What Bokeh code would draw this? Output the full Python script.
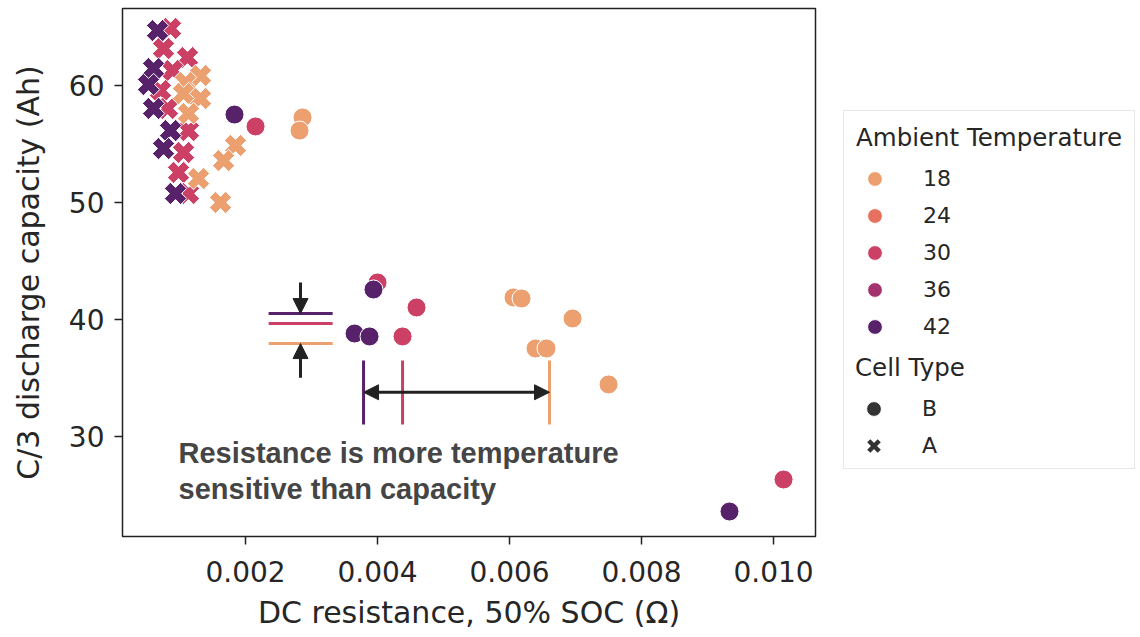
import math
from bokeh.plotting import figure
from bokeh.layouts import row
from bokeh.models import (ColumnDataSource, Legend, LegendItem, FixedTicker, Arrow,
                          NormalHead, Range1d, NumeralTickFormatter)
from bokeh.core.properties import value
from bokeh.embed import file_html
from bokeh.resources import INLINE

# ---------------- data ----------------
temp_levels = [18, 24, 30, 36, 42]
temp_colors = ["#eca06f", "#e7705e", "#cc4066", "#a2336f", "#57226a"]

# Cell type B (circles)
b_resistance = [0.002864, 0.002818, 0.006061, 0.006182, 0.006955, 0.006394, 0.006560, 0.007500,
                0.002152, 0.004000, 0.004379, 0.004591, 0.010152,
                0.001833, 0.003939, 0.003652, 0.003879, 0.009333]
b_capacity = [57.29, 56.17, 41.88, 41.79, 40.08, 37.51, 37.51, 34.43,
              56.52, 43.16, 38.54, 41.02, 26.29,
              57.54, 42.56, 38.79, 38.54, 23.55]
b_temp = [18, 18, 18, 18, 18, 18, 18, 18,
          30, 30, 30, 30, 30,
          42, 42, 42, 42, 42]

# Cell type A (X markers)
a_resistance = [0.000864, 0.000758, 0.001121, 0.000894, 0.000712, 0.000818, 0.001136, 0.001061, 0.000985, 0.001136,
                0.000667, 0.000606, 0.000530, 0.000606, 0.000864, 0.000758, 0.000939,
                0.001318, 0.001091, 0.001061, 0.001318, 0.001136, 0.001848, 0.001667, 0.001288, 0.001621]
a_capacity = [64.91, 63.19, 62.42, 61.31, 59.60, 58.06, 56.17, 54.29, 52.58, 50.78,
              64.73, 61.48, 60.11, 58.06, 56.17, 54.63, 50.78,
              60.88, 60.28, 59.34, 58.91, 57.63, 54.89, 53.60, 52.06, 50.01]
a_temp = [30] * 10 + [42] * 7 + [18] * 9

x_ticks = [0.002, 0.004, 0.006, 0.008, 0.010]
x_tick_labels = ["0.002", "0.004", "0.006", "0.008", "0.010"]
y_ticks = [30, 40, 50, 60]
y_tick_labels = ["30", "40", "50", "60"]

# annotation: capacity / resistance markers per temperature
ann_temps = [42, 30, 18]
ann_capacity = [40.50, 39.64, 37.93]
ann_capacity_span = [0.00235, 0.00332]
ann_resistance = [0.003788, 0.004379, 0.006606]
ann_resistance_span = [31.0, 36.48]
cap_arrow_x = 0.002833
cap_arrow_top = [43.16, 40.50]
cap_arrow_bottom = [35.00, 37.93]
res_arrow_y = 33.76
note_x, note_y = 0.000985, 29.89
note_text = "Resistance is more temperature\nsensitive than capacity"

legend_title_temp = "Ambient Temperature"
legend_title_type = "Cell Type"
cell_types = ["B", "A"]

# ---------------- main figure ----------------
color_of = dict(zip(temp_levels, temp_colors))

p = figure(frame_width=693, frame_height=528,
           min_border_left=122, min_border_right=10, min_border_top=8, min_border_bottom=101,
           x_range=Range1d(0.000136, 0.010636), y_range=Range1d(21.41, 66.62),
           output_backend="svg", toolbar_location=None,
           background_fill_color="white", border_fill_color="white")

p.xgrid.visible = False
p.ygrid.visible = False
p.outline_line_color = "#222222"
p.outline_line_width = 1.5

AX_FONT = "DejaVu Sans"
for ax in (p.xaxis[0], p.yaxis[0]):
    ax.axis_line_color = None
    ax.minor_tick_line_color = None
    ax.major_tick_in = 0
    ax.major_tick_out = 8
    ax.major_tick_line_width = 1.5
    ax.major_tick_line_color = "#222222"
    ax.major_label_text_font = AX_FONT
    ax.major_label_text_font_size = "28px"
    ax.major_label_text_color = "#262626"
    ax.axis_label_text_font = AX_FONT
    ax.axis_label_text_font_size = "30px"
    ax.axis_label_text_font_style = "normal"
    ax.axis_label_text_color = "#262626"

p.xaxis.ticker = FixedTicker(ticks=x_ticks)
p.xaxis.formatter = NumeralTickFormatter(format="0.000")
p.xaxis.major_label_overrides = {t: l for t, l in zip(x_ticks, x_tick_labels)}
p.yaxis.ticker = FixedTicker(ticks=y_ticks)
p.yaxis.major_label_overrides = {t: l for t, l in zip(y_ticks, y_tick_labels)}
p.xaxis.axis_label = "DC resistance, 50% SOC (Ω)"
p.yaxis.axis_label = "C/3 discharge capacity (Ah)"
p.xaxis.major_label_standoff = 16
p.xaxis.axis_label_standoff = 10
p.yaxis.major_label_standoff = 10
p.yaxis.axis_label_standoff = 20

# data points
src_b = ColumnDataSource(dict(x=b_resistance, y=b_capacity, color=[color_of[t] for t in b_temp]))
src_a = ColumnDataSource(dict(x=a_resistance, y=a_capacity, color=[color_of[t] for t in a_temp]))

p.scatter("x", "y", source=src_a, marker="plus", angle=math.pi / 4, size=23,
          fill_color="color", line_color="white", line_width=1)
p.scatter("x", "y", source=src_b, marker="circle", size=19,
          fill_color="color", line_color="white", line_width=1)

# annotation lines
p.segment(x0=[ann_capacity_span[0]] * 3, x1=[ann_capacity_span[1]] * 3,
          y0=ann_capacity, y1=ann_capacity, line_color=[color_of[t] for t in ann_temps], line_width=3)
p.segment(x0=ann_resistance, x1=ann_resistance,
          y0=[ann_resistance_span[0]] * 3, y1=[ann_resistance_span[1]] * 3,
          line_color=[color_of[t] for t in ann_temps], line_width=3)

ARROW = "#222222"
def head():
    return NormalHead(size=15, fill_color=ARROW, line_color=ARROW, line_width=1)

p.add_layout(Arrow(x_start=cap_arrow_x, y_start=cap_arrow_top[0], x_end=cap_arrow_x, y_end=cap_arrow_top[1],
                   end=head(), line_color=ARROW, line_width=3))
p.add_layout(Arrow(x_start=cap_arrow_x, y_start=cap_arrow_bottom[0], x_end=cap_arrow_x, y_end=cap_arrow_bottom[1],
                   end=head(), line_color=ARROW, line_width=3))
p.add_layout(Arrow(x_start=ann_resistance[0], y_start=res_arrow_y, x_end=ann_resistance[2], y_end=res_arrow_y,
                   start=head(), end=head(), line_color=ARROW, line_width=3))

p.text(x=[note_x], y=[note_y], text=[note_text], text_font=value("Liberation Sans"),
       text_font_style="bold", text_font_size="29px", text_color="#454545",
       text_baseline="top", text_align="left", text_line_height=1.1)

# ---------------- legend panel (separate figure, no axes) ----------------
lf = figure(width=315, height=637, min_border=0, x_axis_type=None, y_axis_type=None,
            x_range=Range1d(0, 1), y_range=Range1d(0, 1),
            output_backend="svg", toolbar_location=None, outline_line_color=None,
            background_fill_color="white", border_fill_color="white")
lf.xgrid.visible = False
lf.ygrid.visible = False

# legend-only renderers (one point each, placed outside the visible range)
off = dict(x=[-5], y=[-5])
temp_renderers = [lf.scatter(marker="circle", size=10, fill_color=c, line_color="white",
                             line_width=1, **off) for c in temp_colors]
filler = lf.scatter(marker="circle", size=10, fill_alpha=0, line_alpha=0, **off)
b_leg = lf.scatter(marker="circle", size=10, fill_color="#333333", line_color="white", line_width=1, **off)
a_leg = lf.scatter(marker="x", size=10, line_color="#333333", line_width=4.5, **off)

def style(leg):
    leg.title_text_font = AX_FONT
    leg.title_text_font_size = "24.5px"
    leg.title_text_font_style = "normal"
    leg.title_text_color = "#262626"
    leg.title_standoff = 8
    leg.label_text_font = AX_FONT
    leg.label_text_font_size = "22px"
    leg.label_text_color = "#262626"
    leg.label_standoff = 30
    leg.glyph_width = 37
    leg.glyph_height = 37
    leg.label_height = 37
    leg.spacing = 0
    leg.padding = 12
    leg.margin = 0

items1 = [LegendItem(label=str(t), renderers=[r]) for t, r in zip(temp_levels, temp_renderers)]
items1 += [LegendItem(label=" ", renderers=[filler]) for _ in range(3)]
leg1 = Legend(items=items1, title=legend_title_temp, location=(18, 67))
style(leg1)
leg1.border_line_color = "#cfcfcf"
leg1.border_line_width = 1.2
leg1.background_fill_color = "white"
leg1.background_fill_alpha = 1

leg2 = Legend(items=[LegendItem(label=cell_types[0], renderers=[b_leg]),
                     LegendItem(label=cell_types[1], renderers=[a_leg])],
              title=legend_title_type, location=(18, 60))
style(leg2)
leg2.border_line_alpha = 0
leg2.background_fill_alpha = 0

lf.add_layout(leg1)
lf.add_layout(leg2)

layout = row(p, lf, spacing=0)
open("out.html", "w").write(file_html(layout, INLINE))
